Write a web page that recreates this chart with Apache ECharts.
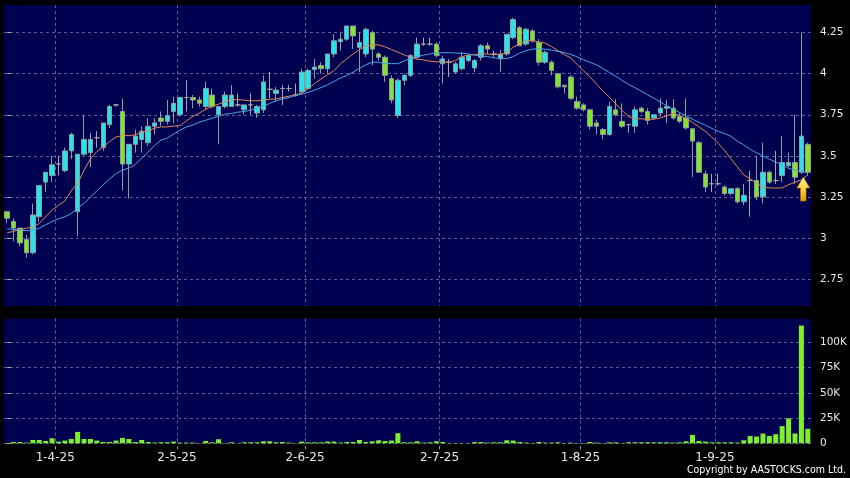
<!DOCTYPE html>
<html><head><meta charset="utf-8">
<script src="https://cdn.jsdelivr.net/npm/echarts@6/dist/echarts.min.js"></script>
<style>html,body{margin:0;padding:0;background:#000;}#c{width:850px;height:478px;}</style>
</head><body><div id="c"></div>
<script>
// ---- data ----
const openP = [3.16,3.10,3.06,2.99,2.91,3.13,3.34,3.38,3.45,3.41,
3.53,3.16,3.51,3.52,3.61,3.55,3.69,3.81,3.77,3.45,
3.57,3.60,3.58,3.68,3.73,3.71,3.77,3.75,3.855,3.855,
3.84,3.80,3.87,3.75,3.80,3.80,3.81,3.78,3.81,3.76,
3.78,3.905,3.88,3.91,3.91,3.87,3.89,3.91,4.025,4.05,
4.03,4.12,4.195,4.21,4.29,4.16,4.12,4.25,4.12,4.10,
3.97,3.745,3.96,3.99,4.10,4.18,4.18,4.18,4.06,4.07,
4.01,4.03,4.08,4.035,4.10,4.17,4.12,4.09,4.12,4.22,
4.28,4.18,4.26,4.19,4.07,4.07,4.00,3.93,3.98,3.83,
3.81,3.78,3.70,3.66,3.63,3.78,3.71,3.69,3.68,3.79,
3.77,3.73,3.76,3.79,3.79,3.74,3.73,3.665,3.58,3.39,
3.33,3.33,3.31,3.27,3.30,3.22,3.35,3.35,3.25,3.40,
3.35,3.38,3.44,3.46,3.40,3.57];
const closeP = [3.12,3.06,2.97,2.91,3.14,3.32,3.40,3.445,3.45,3.53,
3.63,3.51,3.60,3.60,3.61,3.70,3.80,3.81,3.45,3.57,
3.62,3.65,3.68,3.70,3.71,3.745,3.82,3.855,3.855,3.84,
3.82,3.91,3.80,3.80,3.87,3.87,3.81,3.81,3.81,3.80,
3.95,3.905,3.90,3.91,3.91,3.87,4.01,4.02,4.04,4.03,
4.12,4.20,4.21,4.29,4.23,4.19,4.27,4.15,4.10,3.99,
3.84,3.96,3.99,4.11,4.18,4.18,4.18,4.11,4.09,4.07,
4.06,4.10,4.11,4.08,4.17,4.15,4.12,4.12,4.24,4.33,
4.17,4.27,4.20,4.07,4.13,4.02,3.92,3.92,3.85,3.79,
3.78,3.68,3.68,3.63,3.80,3.75,3.68,3.69,3.78,3.77,
3.715,3.75,3.79,3.80,3.73,3.71,3.67,3.59,3.40,3.31,
3.33,3.33,3.27,3.30,3.22,3.26,3.35,3.25,3.40,3.34,
3.35,3.46,3.46,3.37,3.62,3.40];
const lowP = [3.09,2.98,2.95,2.88,2.90,3.10,3.28,3.34,3.38,3.40,
3.48,3.01,3.50,3.43,3.55,3.53,3.67,3.80,3.29,3.24,
3.52,3.52,3.56,3.63,3.68,3.69,3.70,3.74,3.77,3.79,
3.80,3.78,3.79,3.57,3.79,3.80,3.80,3.75,3.75,3.73,
3.76,3.85,3.83,3.81,3.89,3.86,3.88,3.90,3.97,4.00,
4.00,4.10,4.14,4.20,4.15,4.01,4.10,4.05,4.08,3.95,
3.82,3.73,3.93,3.98,4.09,4.17,4.17,4.10,3.94,3.98,
4.00,4.02,4.07,4.01,4.08,4.12,4.10,4.01,4.11,4.21,
4.17,4.17,4.19,4.05,4.06,3.99,3.91,3.88,3.84,3.78,
3.77,3.66,3.63,3.60,3.62,3.74,3.67,3.64,3.64,3.76,
3.69,3.72,3.74,3.70,3.72,3.70,3.66,3.37,3.40,3.28,
3.28,3.32,3.26,3.26,3.21,3.20,3.13,3.23,3.21,3.33,
3.33,3.34,3.43,3.33,3.39,3.38];
const highP = [3.16,3.12,3.06,3.02,3.21,3.32,3.40,3.50,3.50,3.55,
3.64,3.51,3.75,3.64,3.65,3.70,3.81,3.81,3.85,3.57,
3.66,3.68,3.73,3.73,3.77,3.84,3.86,3.86,3.96,3.87,
3.86,3.95,3.91,3.80,3.89,3.93,3.88,3.81,3.88,3.81,
3.99,4.01,3.92,3.93,3.93,3.94,4.03,4.03,4.09,4.07,
4.12,4.24,4.25,4.29,4.29,4.25,4.28,4.26,4.13,4.11,
3.99,3.97,4.00,4.12,4.22,4.22,4.22,4.19,4.11,4.09,
4.07,4.13,4.12,4.09,4.18,4.19,4.14,4.145,4.24,4.34,
4.29,4.28,4.27,4.21,4.14,4.08,4.00,3.93,3.99,3.86,
3.82,3.78,3.72,3.67,3.83,3.845,3.82,3.69,3.80,3.80,
3.79,3.75,3.85,3.84,3.845,3.76,3.85,3.67,3.59,3.41,
3.39,3.39,3.32,3.30,3.31,3.33,3.41,3.50,3.58,3.41,
3.53,3.62,3.52,3.75,4.25,3.58];
const volume = [300,1300,1300,700,3300,3300,2300,5000,1700,2700,
4300,11300,4300,4300,2700,1300,1300,2700,5300,4300,
1300,3300,1300,700,1000,1000,1700,700,700,700,
300,2300,1000,4000,300,1000,100,1000,1000,1000,
2000,2000,1000,1300,700,300,1700,1000,1000,1000,
1700,1700,700,1300,1300,3300,1300,2000,3000,2300,
2700,10000,1000,1000,2000,700,1000,2000,1300,300,
300,300,300,1300,1300,700,1000,1000,3000,2700,
1300,700,300,1300,700,700,1000,300,700,300,
300,1300,700,300,1000,1000,300,1000,1000,1000,
1000,1000,1000,1000,700,1000,2000,8300,2300,1700,
1000,1000,1000,1000,700,3000,7300,6700,9700,7300,
9000,17000,24700,9700,116600,14300];
const maShort = [3.032,3.040,3.052,3.060,3.064,3.088,3.129,3.170,3.198,3.226,
3.287,3.331,3.413,3.482,3.526,3.555,3.587,3.615,3.623,3.623,
3.628,3.644,3.652,3.668,3.676,3.676,3.681,3.684,3.713,3.741,
3.761,3.782,3.802,3.814,3.830,3.842,3.842,3.839,3.835,3.835,
3.839,3.844,3.847,3.855,3.863,3.871,3.883,3.908,3.940,3.968,
3.993,4.017,4.058,4.090,4.119,4.147,4.167,4.175,4.175,4.163,
4.147,4.131,4.114,4.100,4.088,4.084,4.076,4.072,4.072,4.068,
4.080,4.104,4.113,4.116,4.120,4.120,4.116,4.116,4.128,4.161,
4.181,4.198,4.201,4.193,4.186,4.165,4.140,4.116,4.096,4.055,
4.017,3.980,3.938,3.895,3.859,3.816,3.777,3.739,3.727,3.725,
3.723,3.723,3.731,3.743,3.758,3.746,3.725,3.704,3.676,3.649,
3.615,3.576,3.533,3.482,3.433,3.384,3.360,3.333,3.308,3.305,
3.304,3.305,3.324,3.339,3.354,3.384];
const maLong = [3.056,3.052,3.048,3.044,3.048,3.060,3.080,3.100,3.117,3.129,
3.149,3.182,3.210,3.250,3.287,3.324,3.360,3.392,3.413,3.425,
3.448,3.486,3.522,3.563,3.595,3.608,3.632,3.656,3.676,3.688,
3.705,3.717,3.729,3.741,3.754,3.757,3.766,3.769,3.778,3.790,
3.802,3.819,3.835,3.847,3.855,3.867,3.875,3.887,3.900,3.915,
3.932,3.952,3.973,3.988,4.009,4.033,4.054,4.070,4.070,4.061,
4.061,4.061,4.078,4.092,4.104,4.113,4.120,4.125,4.128,4.128,
4.125,4.125,4.120,4.113,4.108,4.104,4.096,4.092,4.092,4.104,
4.125,4.140,4.149,4.153,4.149,4.143,4.136,4.128,4.117,4.102,
4.084,4.069,4.054,4.032,4.008,3.984,3.959,3.936,3.915,3.894,
3.871,3.850,3.827,3.804,3.783,3.763,3.743,3.723,3.704,3.686,
3.667,3.649,3.636,3.619,3.589,3.567,3.540,3.518,3.499,3.480,
3.462,3.444,3.424,3.413,3.405,3.398];
const priceTicks = [2.75, 3, 3.25, 3.5, 3.75, 4, 4.25];
const volumeTicks = [0, 25000, 50000, 75000, 100000];
const holidays = ['2025-04-04','2025-04-18','2025-04-21','2025-05-01','2025-05-05','2025-07-01'];
const firstDay = '2025-03-20', lastDay = '2025-09-19';

// ---- category dates (HK trading days) ----
function tradingDays(a, b) {
  const out = [];
  const d = new Date(a + 'T00:00:00Z'), e = new Date(b + 'T00:00:00Z');
  while (d <= e) {
    const s = d.toISOString().slice(0, 10);
    const wd = d.getUTCDay();
    if (wd !== 0 && wd !== 6 && holidays.indexOf(s) < 0) out.push(s);
    d.setUTCDate(d.getUTCDate() + 1);
  }
  return out;
}
const dates = tradingDays(firstDay, lastDay);
const N = dates.length;
const monthStarts = [];
for (let i = 1; i < N; i++) if (dates[i].slice(0, 7) !== dates[i - 1].slice(0, 7)) monthStarts.push(i);
const boundaries = monthStarts.map(i => i - 0.5);
function dateLabel(v) {
  const idx = Math.round(v + 0.5);
  const s = dates[idx]; if (!s) return '';
  return parseInt(s.slice(8, 10), 10) + '-' + parseInt(s.slice(5, 7), 10) + '-' + s.slice(2, 4);
}

const UP = '#22e6ee', DOWN = '#7fe62a', EDGE = '#8f9c9c', DOJI = '#a8a8a8';
const candleData = dates.map((_, i) => {
  const item = { value: [openP[i], closeP[i], lowP[i], highP[i]] };
  if (openP[i] === closeP[i]) item.itemStyle = { color: DOJI, color0: DOJI, borderColor: DOJI, borderColor0: DOJI };
  return item;
});

const NAVY = '#000050';
const gridLine = { show: true, lineStyle: { color: '#5e5e90', type: [3, 3], width: 1 } };
const labelColor = '#e6e6e6';

const chart = echarts.init(document.getElementById('c'), null, { renderer: 'canvas' });
chart.setOption({
  animation: false,
  backgroundColor: '#000',
  grid: [
    { left: 4, top: 5, width: 807, height: 301, show: true, backgroundColor: NAVY, borderWidth: 0 },
    { left: 4, top: 318.5, width: 807, height: 124.8, show: true, backgroundColor: NAVY, borderWidth: 0 }
  ],
  xAxis: [
    { type: 'category', gridIndex: 0, data: dates, boundaryGap: true, show: false },
    { type: 'value', gridIndex: 0, min: -0.5, max: N - 0.5,
      axisLine: { show: false }, axisLabel: { show: false },
      axisTick: { show: false, customValues: boundaries }, splitLine: gridLine },
    { type: 'category', gridIndex: 1, data: dates, boundaryGap: true, show: false },
    { type: 'value', gridIndex: 1, min: -0.5, max: N - 0.5, position: 'bottom', offset: 3,
      axisLine: { show: false },
      axisTick: { show: true, length: 3, customValues: boundaries, lineStyle: { color: '#aaaaaa' } },
      axisLabel: { show: true, customValues: boundaries, formatter: dateLabel, color: labelColor,
        fontFamily: 'DejaVu Sans', fontSize: 12, margin: 6 },
      splitLine: gridLine }
  ],
  yAxis: [
    { type: 'value', gridIndex: 0, position: 'right', min: 2.586, max: 4.418, offset: 2,
      axisLine: { show: false },
      axisTick: { show: true, length: 4, customValues: priceTicks, lineStyle: { color: '#aaaaaa' } },
      axisLabel: { customValues: priceTicks, color: labelColor, fontFamily: 'DejaVu Sans', fontSize: 10.5, margin: 7,
        formatter: v => String(v) },
      splitLine: gridLine },
    { type: 'value', gridIndex: 1, position: 'right', min: 0, max: 123600, offset: 2,
      axisLine: { show: false },
      axisTick: { show: true, length: 4, customValues: volumeTicks, lineStyle: { color: '#aaaaaa' } },
      axisLabel: { customValues: volumeTicks, color: labelColor, fontFamily: 'DejaVu Sans', fontSize: 10.5, margin: 7,
        formatter: v => v === 0 ? '0' : (v / 1000) + 'K' },
      splitLine: gridLine }
  ],
  series: [
    { type: 'candlestick', xAxisIndex: 0, yAxisIndex: 0, data: candleData, barWidth: 5,
      itemStyle: { color: UP, color0: DOWN, borderColor: EDGE, borderColor0: EDGE, borderWidth: 1 },
      markPoint: { silent: true, animation: false,
        data: [{ coord: [dates[N - 1], lowP[N - 1]],
          symbol: 'path://M7,0 L14,11 L10,11 L10,24 L4,24 L4,11 L0,11 Z',
          symbolSize: [13, 24], symbolOffset: [-4.5, 13.5],
          label: { show: false },
          itemStyle: { color: { type: 'linear', x: 0, y: 0, x2: 0, y2: 1,
            colorStops: [{ offset: 0, color: '#fff3a0' }, { offset: 0.5, color: '#ffd23a' }, { offset: 1, color: '#e39a00' }] },
            borderColor: '#a87000', borderWidth: 0.6 } }] } },
    { type: 'line', xAxisIndex: 0, yAxisIndex: 0, data: maShort, symbol: 'none', silent: true,
      lineStyle: { color: '#e08a50', width: 1 } },
    { type: 'line', xAxisIndex: 0, yAxisIndex: 0, data: maLong, symbol: 'none', silent: true,
      lineStyle: { color: '#46a8e6', width: 1 } },
    { type: 'bar', xAxisIndex: 2, yAxisIndex: 1, data: volume, barWidth: 5,
      itemStyle: { color: '#7cf028' } }
  ],
  graphic: [
    { type: 'text', right: 4, top: 465, silent: true,
      style: { text: 'Copyright by AASTOCKS.com Ltd.', fill: '#ffffff',
        font: "10.5px 'DejaVu Sans Condensed', 'Liberation Sans', sans-serif" } }
  ]
});
</script></body></html>
